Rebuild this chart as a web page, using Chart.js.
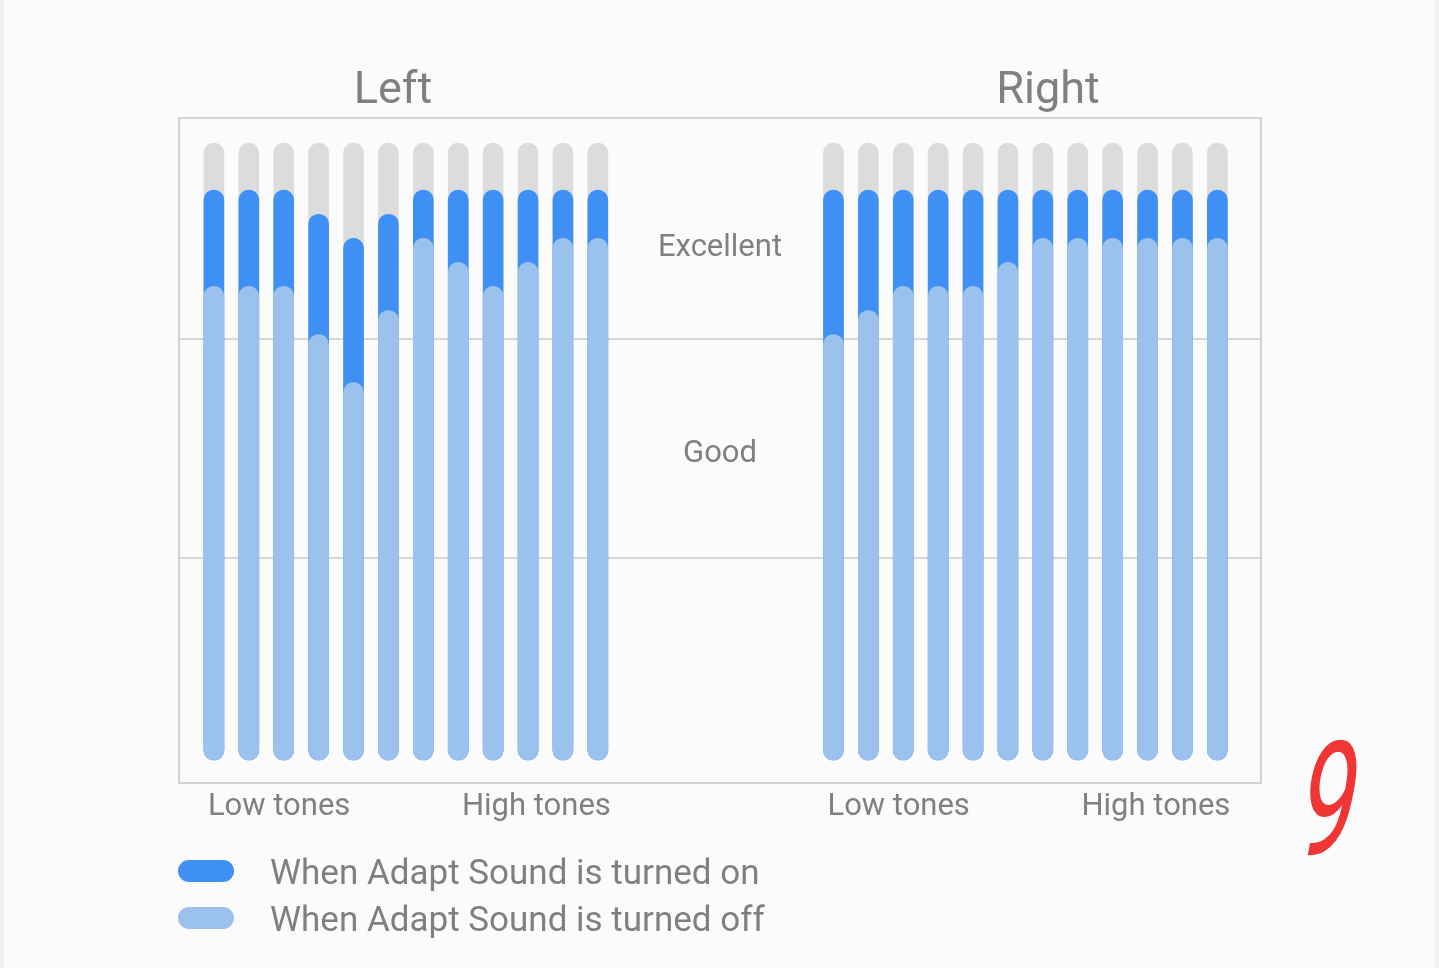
<!DOCTYPE html>
<html>
<head>
<meta charset="utf-8">
<script src="https://cdn.jsdelivr.net/npm/chart.js@4"></script>
<style>
  html, body { margin: 0; padding: 0; }
  body {
    width: 1439px; height: 968px; overflow: hidden;
    background: linear-gradient(to right, #f1f1f1 0, #f1f1f1 4px, #fbfbfb 4px, #fbfbfb 1434px, #f2f2f2 1434px);
  }
  canvas { display: block; }
</style>
</head>
<body>
<canvas id="chart" width="1439" height="968"></canvas>
<script>
// tone bands, low tones -> high tones
const tones = [1, 2, 3, 4, 5, 6, 7, 8, 9, 10, 11, 12];
const rightShift = 17.75; // right ear group sits after a gap

// hearing score per tone (0-1 below good, 1-2 good, 2-3 excellent)
const leftOn = [2.68, 2.68, 2.68, 2.57, 2.46, 2.57, 2.68, 2.68, 2.68, 2.68, 2.68, 2.68];
const leftOff = [2.24, 2.24, 2.24, 2.02, 1.80, 2.13, 2.46, 2.35, 2.24, 2.35, 2.46, 2.46];
const rightOn = [2.68, 2.68, 2.68, 2.68, 2.68, 2.68, 2.68, 2.68, 2.68, 2.68, 2.68, 2.68];
const rightOff = [2.02, 2.13, 2.24, 2.24, 2.24, 2.35, 2.46, 2.46, 2.46, 2.46, 2.46, 2.46];

const scoreFloor = 0.075; // where every bar starts
const scoreTop = 2.895;   // full scale (grey track)
const bandLines = [1, 2];
const bandLabels = ['Good', 'Excellent'];
const bandLabelAt = [1.49, 2.43];
const legendLabels = ['When Adapt Sound is turned on', 'When Adapt Sound is turned off'];

const colOn = '#3f90f4';
const colOff = '#9bc1ef';
const colTrack = '#dcdcdc';
const textColor = '#808080';

function points(values, shift) {
  return values.map((v, i) => ({ x: tones[i] + shift, y: [scoreFloor, v] }));
}

let trackValues = tones.map(() => scoreTop);

const extras = {
  id: 'extras',
  beforeDatasetsDraw(chart) { // outer frame
    const { ctx, chartArea } = chart;
    ctx.save();
    ctx.strokeStyle = '#d3d3d3';
    ctx.lineWidth = 2;
    ctx.strokeRect(chartArea.left, chartArea.top, chartArea.right - chartArea.left, chartArea.bottom - chartArea.top);
    ctx.restore();
  },
  afterDraw(chart) {
    const { ctx, chartArea, scales } = chart;
    const x = scales.x, y = scales.y;
    const barHalf = 10;
    ctx.save();
    ctx.fillStyle = textColor;
    ctx.textBaseline = 'alphabetic';

    // ear titles
    ctx.font = '45px Roboto';
    ctx.textAlign = 'center';
    ctx.fillText('Left', x.getPixelForValue(6.13), chartArea.top - 15);
    ctx.fillText('Right', x.getPixelForValue(6.13 + rightShift + 1.02), chartArea.top - 15);

    // band names in the middle
    ctx.font = '31px Roboto';
    const mid = (chartArea.left + chartArea.right) / 2;
    bandLabels.forEach((lab, i) => {
      ctx.fillText(lab, mid, y.getPixelForValue(bandLabelAt[i]) + 11);
    });

    // low / high tones under each group
    ctx.font = '31px Roboto';
    const tonesY = chartArea.bottom + 32;
    [0, rightShift].forEach(shift => {
      ctx.textAlign = 'left';
      ctx.fillText('Low tones', x.getPixelForValue(tones[0] + shift) - barHalf + 4, tonesY);
      ctx.textAlign = 'right';
      ctx.fillText('High tones', x.getPixelForValue(tones[11] + shift) + barHalf + 3, tonesY);
    });

    // legend
    ctx.font = '35px Roboto';
    ctx.textAlign = 'left';
    [colOn, colOff].forEach((c, i) => {
      const rowY = chartArea.bottom + 88 + i * 47;
      ctx.fillStyle = c;
      ctx.beginPath();
      ctx.roundRect(178, rowY - 11, 56, 22, 11);
      ctx.fill();
      ctx.fillStyle = textColor;
      ctx.fillText(legendLabels[i], 270, rowY + 13);
    });

    // handwritten page number
    ctx.fillStyle = '#f03535';
    ctx.font = '160px Roboto';
    ctx.textAlign = 'center';
    ctx.setTransform(0.62, 0, -0.18, 1, 1321, 855);
    ctx.fillText('9', 0, 0);
    ctx.restore();
  }
};

const barStyle = {
  barThickness: 20,
  borderRadius: 10,
  borderSkipped: false,
  grouped: false
};

new Chart(document.getElementById('chart'), {
  type: 'bar',
  data: {
    datasets: [
      Object.assign({ label: legendLabels[1], data: points(leftOff, 0).concat(points(rightOff, rightShift)), backgroundColor: colOff }, barStyle),
      Object.assign({ label: legendLabels[0], data: points(leftOn, 0).concat(points(rightOn, rightShift)), backgroundColor: colOn }, barStyle),
      Object.assign({ label: 'track', data: points(trackValues, 0).concat(points(trackValues, rightShift)), backgroundColor: colTrack }, barStyle)
    ]
  },
  options: {
    responsive: false,
    animation: false,
    layout: { padding: { left: 179, right: 178, top: 118, bottom: 185 } },
    plugins: { legend: { display: false }, tooltip: { enabled: false } },
    scales: {
      x: { type: 'linear', display: false, offset: false, min: 0, max: 31 },
      y: {
        min: -0.03, max: 3.01,
        afterBuildTicks: scale => { scale.ticks = bandLines.map(v => ({ value: v })); },
        ticks: { display: false },
        grid: { color: '#d6d6d6', lineWidth: 2, drawTicks: false },
        border: { display: false }
      }
    }
  },
  plugins: [extras]
});
</script>
</body>
</html>
